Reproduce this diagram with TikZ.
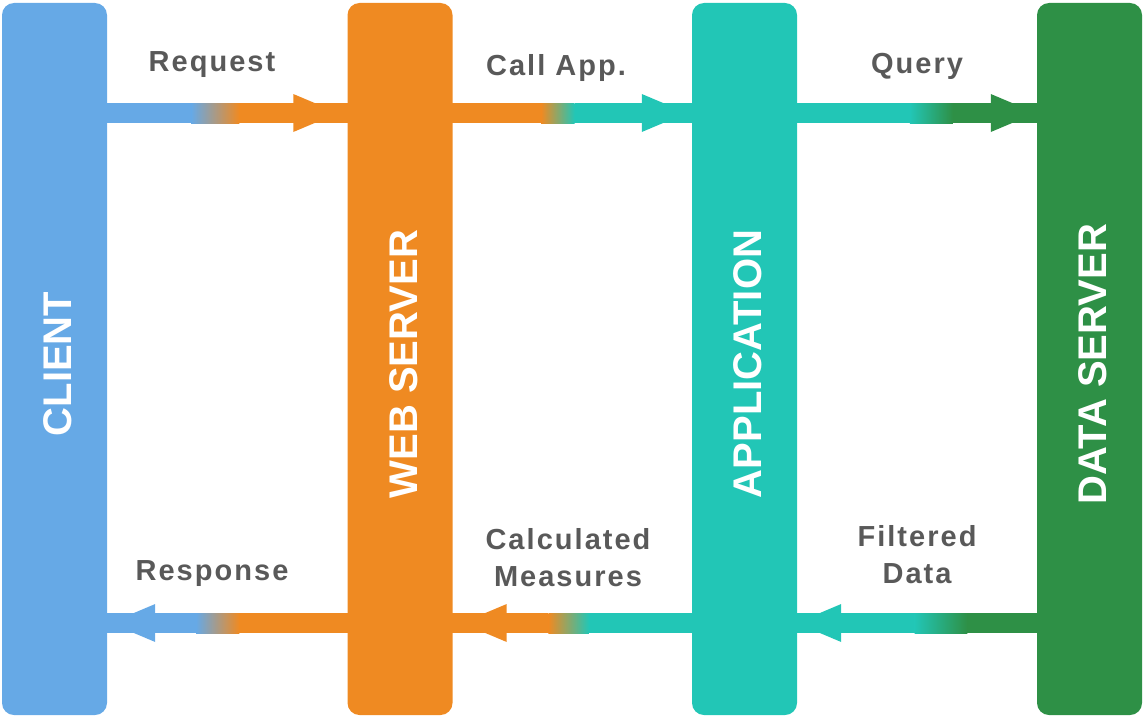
\documentclass[tikz,border=0pt]{standalone}
\usepackage{fontspec}
\setmainfont{Liberation Sans}
\usetikzlibrary{calc}
\definecolor{clientblue}{HTML}{66A9E6}
\definecolor{weborange}{HTML}{EF8A22}
\definecolor{appteal}{HTML}{22C6B6}
\definecolor{datagreen}{HTML}{2E9046}
\definecolor{msggray}{HTML}{595959}
\newcommand{\tiername}[1]{\rotatebox{90}{\rule{0pt}{35pt}#1\hspace{10pt}}}
\begin{document}
\begin{tikzpicture}[x=1pt,y=-1pt,
        tier/.style={rounded corners=12pt, minimum width=105pt, minimum height=712pt, inner sep=0pt, text=white, font=\fontsize{40}{40}\selectfont\bfseries},
        msg/.style={text=msggray, align=center, inner sep=0pt, font=\fontsize{29}{37}\selectfont\bfseries\addfontfeatures{LetterSpace=7}}]
    \useasboundingbox (0,0) rectangle (1143,717);
    % the four tiers
    \node[tier, fill=clientblue] (client) at (54.5,359) {\tiername{CLIENT}};
    \node[tier, fill=weborange] (web) at (400,359) {\tiername{WEB SERVER}};
    \node[tier, fill=appteal] (app) at (744.5,359) {\tiername{APPLICATION}};
    \node[tier, fill=datagreen] (data) at (1089.5,359) {\tiername{DATA SERVER}};
    % bands between the tiers, colour fading from one tier to the next
    \foreach \l/\r/\y/\cl/\cr/\fa/\fb in {client/web/113/clientblue/weborange/.35/.55,
            web/app/113/weborange/appteal/.37/.51, app/data/113/appteal/datagreen/.47/.65,
            client/web/623/clientblue/weborange/.37/.55, web/app/623/weborange/appteal/.40/.57,
            app/data/623/appteal/datagreen/.49/.71} {
        \path (\l.east |- 0,\y) coordinate (bl) (\r.west |- 0,\y) coordinate (br);
        \fill[\cl] ($(bl)+(-2,-10)$) rectangle ($(bl)!\fa!(br)+(0,10)$);
        \shade[left color=\cl, right color=\cr] ($(bl)!\fa!(br)+(0,-10)$) rectangle ($(bl)!\fb!(br)+(0,10)$);
        \fill[\cr] ($(bl)!\fb!(br)+(0,-10)$) rectangle ($(br)+(2,10)$);
    }
    % arrow heads
    \foreach \t/\y/\d/\c in {web.west/113/54/weborange, app.west/113/50/appteal, data.west/113/46/datagreen} {
        \fill[\c] ($(\t |- 0,\y)+(-\d,-19)$) -- ++(45,19) -- ++(-45,19) -- cycle;
    }
    \foreach \t/\y/\d/\c in {client.east/623/48/clientblue, web.east/623/54/weborange, app.east/623/44/appteal} {
        \fill[\c] ($(\t |- 0,\y)+(\d,-19)$) -- ++(-45,19) -- ++(45,19) -- cycle;
    }
    % messages
    \node[msg, anchor=base] (request) at (212,71) {Request};
    \node[msg, anchor=base] (callapp) at (556,75) {Call App.};
    \node[msg, anchor=base] (query) at (917,74) {Query};
    \node[msg, anchor=base] (response) at (212,580) {Response};
    \node[msg] (measures) at (568,558) {Calculated\\Measures};
    \node[msg] (filtered) at (917,555) {Filtered\\Data};
\end{tikzpicture}
\end{document}
